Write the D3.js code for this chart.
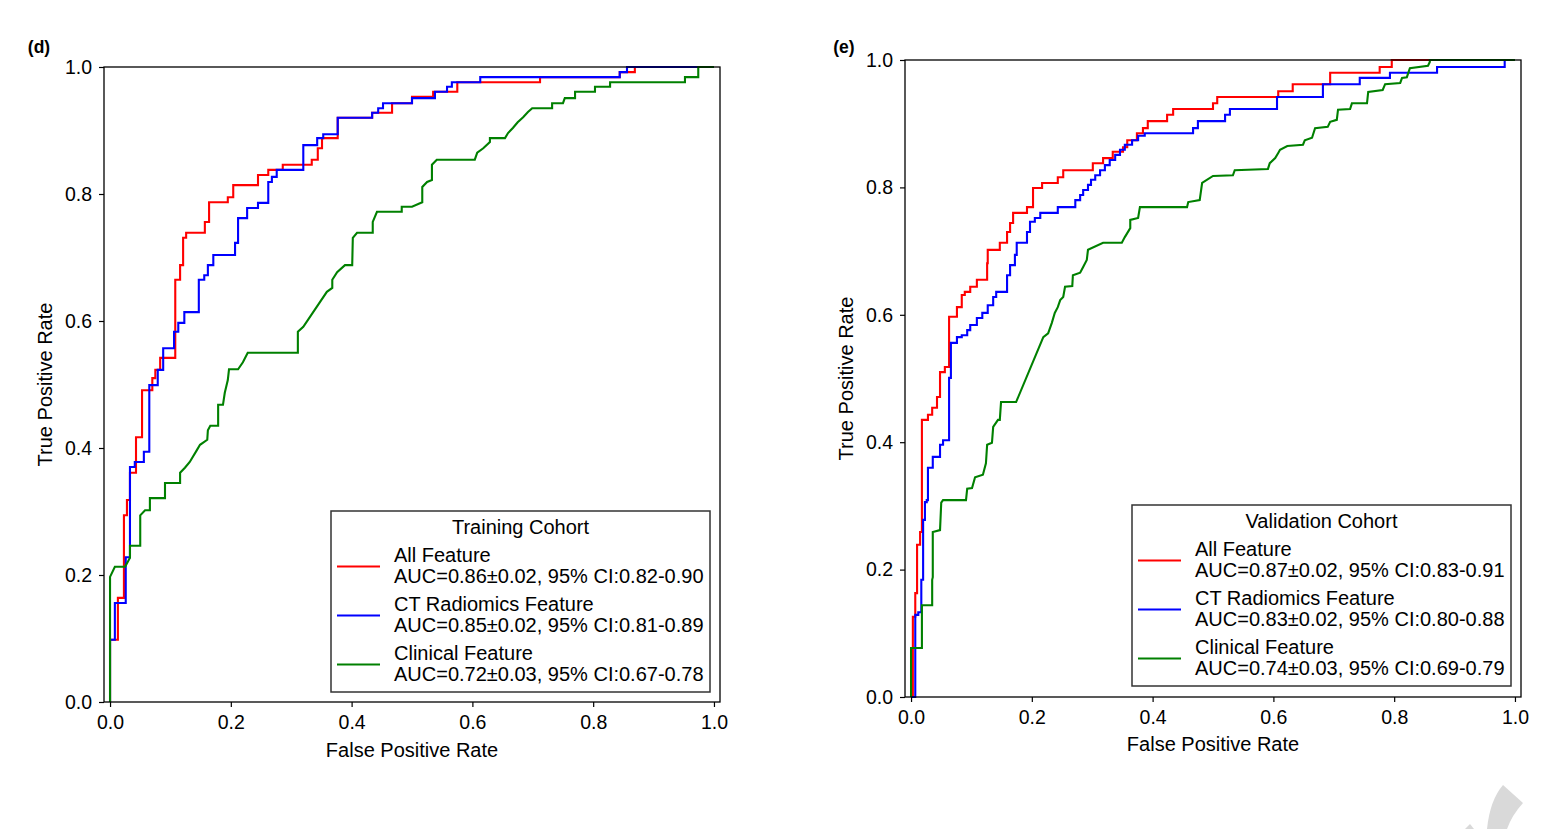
<!DOCTYPE html>
<html><head><meta charset="utf-8">
<script src="https://cdn.jsdelivr.net/npm/d3@7"></script>
<style>
body{margin:0;background:#fff}
svg{display:block}
text{font-family:"Liberation Sans",Arial,Helvetica,sans-serif;fill:#000}
</style>
</head><body>
<svg id="chart" width="1541" height="829"></svg>
<script>
// ---------------- DATA ----------------
const xTicks = [0, 0.2, 0.4, 0.6, 0.8, 1.0];
const yTicks = [0, 0.2, 0.4, 0.6, 0.8, 1.0];
const seriesNames = ["All Feature", "CT Radiomics Feature", "Clinical Feature"];
const seriesColors = ["#ff0000", "#0000ff", "#008000"];
const trainAUC = ["AUC=0.86±0.02, 95% CI:0.82-0.90", "AUC=0.85±0.02, 95% CI:0.81-0.89", "AUC=0.72±0.03, 95% CI:0.67-0.78"];
const valAUC = ["AUC=0.87±0.02, 95% CI:0.83-0.91", "AUC=0.83±0.02, 95% CI:0.80-0.88", "AUC=0.74±0.03, 95% CI:0.69-0.79"];

// Training cohort ROC vertices [fpr, tpr]
const trainAll = [[0,0],[0,0.098],[0.013,0.098],[0.013,0.164],[0.023,0.164],[0.023,0.294],[0.028,0.294],[0.028,0.318],[0.033,0.318],[0.033,0.361],[0.043,0.361],[0.043,0.417],[0.053,0.417],[0.053,0.491],[0.070,0.491],[0.070,0.510],[0.075,0.510],[0.075,0.523],[0.083,0.523],[0.083,0.542],[0.108,0.542],[0.108,0.665],[0.116,0.665],[0.116,0.688],[0.121,0.688],[0.121,0.731],[0.126,0.731],[0.126,0.739],[0.157,0.739],[0.157,0.756],[0.164,0.756],[0.164,0.787],[0.195,0.787],[0.195,0.795],[0.204,0.795],[0.204,0.814],[0.245,0.814],[0.245,0.830],[0.262,0.830],[0.262,0.838],[0.286,0.838],[0.286,0.846],[0.334,0.846],[0.334,0.854],[0.344,0.854],[0.344,0.872],[0.351,0.872],[0.351,0.888],[0.377,0.888],[0.377,0.920],[0.434,0.920],[0.434,0.928],[0.467,0.928],[0.467,0.943],[0.500,0.943],[0.500,0.953],[0.535,0.953],[0.535,0.961],[0.575,0.961],[0.575,0.976],[0.712,0.976],[0.712,0.984],[0.844,0.984],[0.844,0.992],[0.869,0.992],[0.869,1],[1,1]];
const trainCT = [[0,0],[0,0.098],[0.008,0.098],[0.008,0.156],[0.026,0.156],[0.026,0.228],[0.033,0.228],[0.033,0.370],[0.041,0.370],[0.041,0.378],[0.056,0.378],[0.056,0.394],[0.065,0.394],[0.065,0.499],[0.079,0.499],[0.079,0.523],[0.088,0.523],[0.088,0.557],[0.106,0.557],[0.106,0.583],[0.113,0.583],[0.113,0.597],[0.123,0.597],[0.123,0.614],[0.147,0.614],[0.147,0.665],[0.156,0.665],[0.156,0.672],[0.162,0.672],[0.162,0.688],[0.171,0.688],[0.171,0.704],[0.207,0.704],[0.207,0.723],[0.212,0.723],[0.212,0.762],[0.227,0.762],[0.227,0.778],[0.245,0.778],[0.245,0.786],[0.262,0.786],[0.262,0.819],[0.268,0.819],[0.268,0.827],[0.276,0.827],[0.276,0.838],[0.320,0.838],[0.320,0.877],[0.343,0.877],[0.343,0.888],[0.353,0.888],[0.353,0.894],[0.377,0.894],[0.377,0.920],[0.434,0.920],[0.434,0.928],[0.444,0.928],[0.444,0.935],[0.452,0.935],[0.452,0.943],[0.500,0.943],[0.500,0.951],[0.538,0.951],[0.538,0.961],[0.558,0.961],[0.558,0.969],[0.566,0.969],[0.566,0.976],[0.613,0.976],[0.613,0.984],[0.844,0.984],[0.844,0.992],[0.856,0.992],[0.856,1],[1,1]];
const trainClin = [[0,0],[0,0.197],[0.008,0.213],[0.025,0.213],[0.033,0.227],[0.033,0.246],[0.050,0.246],[0.050,0.294],[0.058,0.302],[0.066,0.302],[0.066,0.321],[0.091,0.321],[0.091,0.345],[0.116,0.345],[0.116,0.361],[0.124,0.369],[0.132,0.378],[0.144,0.397],[0.149,0.405],[0.161,0.413],[0.162,0.428],[0.166,0.435],[0.179,0.435],[0.179,0.468],[0.187,0.468],[0.190,0.487],[0.195,0.507],[0.197,0.524],[0.212,0.524],[0.220,0.535],[0.228,0.550],[0.311,0.550],[0.311,0.583],[0.320,0.591],[0.359,0.646],[0.368,0.652],[0.368,0.665],[0.376,0.677],[0.389,0.688],[0.401,0.688],[0.402,0.731],[0.409,0.739],[0.435,0.739],[0.435,0.756],[0.442,0.772],[0.483,0.772],[0.483,0.780],[0.500,0.780],[0.517,0.787],[0.517,0.811],[0.525,0.819],[0.533,0.822],[0.533,0.846],[0.541,0.854],[0.604,0.854],[0.608,0.865],[0.618,0.872],[0.629,0.882],[0.629,0.888],[0.654,0.888],[0.659,0.896],[0.667,0.904],[0.675,0.913],[0.684,0.921],[0.692,0.929],[0.699,0.935],[0.732,0.935],[0.732,0.943],[0.750,0.943],[0.753,0.951],[0.770,0.951],[0.770,0.961],[0.803,0.961],[0.803,0.969],[0.828,0.969],[0.828,0.976],[0.952,0.976],[0.952,0.984],[0.974,0.984],[0.974,1],[1,1]];

// Validation cohort ROC vertices [fpr, tpr]
const valAll = [[0,0],[0.003,0],[0.003,0.126],[0.007,0.126],[0.007,0.163],[0.010,0.163],[0.010,0.239],[0.015,0.239],[0.015,0.259],[0.018,0.259],[0.018,0.435],[0.028,0.435],[0.028,0.443],[0.035,0.443],[0.035,0.454],[0.043,0.454],[0.043,0.471],[0.048,0.471],[0.048,0.510],[0.056,0.510],[0.056,0.518],[0.063,0.518],[0.063,0.597],[0.076,0.597],[0.076,0.612],[0.084,0.612],[0.084,0.631],[0.089,0.631],[0.089,0.636],[0.098,0.636],[0.098,0.644],[0.109,0.644],[0.109,0.655],[0.126,0.655],[0.126,0.681],[0.127,0.681],[0.127,0.702],[0.147,0.702],[0.147,0.713],[0.159,0.713],[0.159,0.730],[0.164,0.730],[0.164,0.744],[0.169,0.744],[0.169,0.760],[0.192,0.760],[0.192,0.769],[0.202,0.769],[0.202,0.799],[0.217,0.799],[0.217,0.807],[0.243,0.807],[0.243,0.816],[0.252,0.816],[0.252,0.827],[0.301,0.827],[0.301,0.838],[0.318,0.838],[0.318,0.846],[0.334,0.846],[0.334,0.856],[0.351,0.856],[0.351,0.863],[0.358,0.863],[0.358,0.874],[0.374,0.874],[0.374,0.885],[0.384,0.885],[0.384,0.893],[0.392,0.893],[0.392,0.904],[0.424,0.904],[0.424,0.914],[0.434,0.914],[0.434,0.923],[0.500,0.923],[0.500,0.932],[0.507,0.932],[0.507,0.942],[0.608,0.942],[0.608,0.951],[0.632,0.951],[0.632,0.962],[0.694,0.962],[0.694,0.980],[0.776,0.980],[0.776,0.989],[0.796,0.989],[0.796,1],[1,1]];
const valCT = [[0,0],[0.007,0],[0.007,0.129],[0.012,0.129],[0.012,0.133],[0.017,0.133],[0.017,0.184],[0.020,0.184],[0.020,0.278],[0.023,0.278],[0.023,0.306],[0.026,0.306],[0.026,0.309],[0.028,0.309],[0.028,0.360],[0.036,0.360],[0.036,0.377],[0.048,0.377],[0.048,0.396],[0.053,0.396],[0.053,0.403],[0.063,0.403],[0.063,0.501],[0.066,0.501],[0.066,0.556],[0.076,0.556],[0.076,0.565],[0.084,0.565],[0.084,0.568],[0.093,0.568],[0.093,0.576],[0.098,0.576],[0.098,0.584],[0.109,0.584],[0.109,0.595],[0.118,0.595],[0.118,0.603],[0.127,0.603],[0.127,0.615],[0.136,0.615],[0.136,0.628],[0.141,0.628],[0.141,0.636],[0.159,0.636],[0.159,0.662],[0.164,0.662],[0.164,0.678],[0.172,0.678],[0.172,0.694],[0.175,0.694],[0.175,0.713],[0.192,0.713],[0.192,0.730],[0.197,0.730],[0.197,0.746],[0.205,0.746],[0.205,0.752],[0.214,0.752],[0.214,0.760],[0.243,0.760],[0.243,0.769],[0.272,0.769],[0.272,0.780],[0.280,0.780],[0.280,0.788],[0.285,0.788],[0.285,0.796],[0.293,0.796],[0.293,0.804],[0.298,0.804],[0.298,0.812],[0.305,0.812],[0.305,0.819],[0.313,0.819],[0.313,0.827],[0.321,0.827],[0.321,0.835],[0.329,0.835],[0.329,0.843],[0.338,0.843],[0.338,0.851],[0.346,0.851],[0.346,0.859],[0.354,0.859],[0.354,0.867],[0.366,0.867],[0.366,0.874],[0.376,0.874],[0.376,0.881],[0.387,0.881],[0.387,0.885],[0.467,0.885],[0.467,0.893],[0.475,0.893],[0.475,0.904],[0.520,0.904],[0.520,0.914],[0.528,0.914],[0.528,0.923],[0.606,0.923],[0.606,0.942],[0.682,0.942],[0.682,0.962],[0.743,0.962],[0.743,0.972],[0.793,0.972],[0.793,0.980],[0.871,0.980],[0.871,0.989],[0.983,0.989],[0.983,1],[1,1]];
const valClin = [[0,0],[0,0.077],[0.018,0.077],[0.018,0.144],[0.035,0.144],[0.035,0.184],[0.036,0.188],[0.036,0.259],[0.048,0.262],[0.050,0.305],[0.053,0.309],[0.091,0.309],[0.093,0.327],[0.101,0.328],[0.106,0.345],[0.119,0.349],[0.124,0.367],[0.126,0.396],[0.134,0.399],[0.136,0.424],[0.144,0.435],[0.147,0.435],[0.149,0.463],[0.174,0.463],[0.219,0.565],[0.227,0.571],[0.233,0.587],[0.238,0.603],[0.243,0.612],[0.247,0.623],[0.252,0.628],[0.255,0.644],[0.267,0.645],[0.268,0.662],[0.280,0.666],[0.285,0.675],[0.291,0.686],[0.293,0.702],[0.318,0.713],[0.349,0.713],[0.354,0.722],[0.363,0.736],[0.363,0.749],[0.376,0.752],[0.379,0.769],[0.457,0.769],[0.459,0.777],[0.478,0.780],[0.482,0.807],[0.500,0.818],[0.533,0.819],[0.536,0.827],[0.591,0.829],[0.594,0.838],[0.603,0.846],[0.608,0.854],[0.611,0.859],[0.623,0.865],[0.649,0.867],[0.652,0.874],[0.664,0.878],[0.669,0.893],[0.690,0.895],[0.694,0.903],[0.705,0.906],[0.707,0.922],[0.727,0.923],[0.730,0.932],[0.755,0.932],[0.757,0.950],[0.781,0.953],[0.785,0.962],[0.810,0.964],[0.813,0.972],[0.821,0.973],[0.826,0.987],[0.856,0.991],[0.859,0.997],[0.859,1],[1,1]];

// ---------------- LAYOUT ----------------
const panels = [
  {letter:"(d)", title:"Training Cohort", auc:trainAUC, series:[trainAll, trainCT, trainClin],
   x0:104, x1:720, y0:67, y1:702, letterX:39, letterY:47, xTitleY:750, yTitleX:45,
   legend:{x:331, y:511, w:379, h:181}},
  {letter:"(e)", title:"Validation Cohort", auc:valAUC, series:[valAll, valCT, valClin],
   x0:905, x1:1521, y0:60, y1:697, letterX:844, letterY:47, xTitleY:744, yTitleX:846,
   legend:{x:1132, y:505, w:379, h:181}}
];
const FS = 20;
const svg = d3.select("#chart");
svg.append("rect").attr("width",1541).attr("height",829).attr("fill","#fff");

panels.forEach(p => {
  const g = svg.append("g");
  const x = d3.scaleLinear().domain([-0.01, 1.01]).range([p.x0, p.x1]);
  const y = d3.scaleLinear().domain([0, 1]).range([p.y1, p.y0]);

  // curves
  const line = d3.line().x(d => x(d[0])).y(d => y(d[1])).curve(d3.curveLinear);
  p.series.forEach((s, i) => {
    g.append("path").datum(s).attr("d", line)
      .attr("fill","none").attr("stroke", seriesColors[i])
      .attr("stroke-width", 2.1).attr("stroke-linejoin","miter");
  });

  // axes
  const xAxis = d3.axisBottom(x).tickValues(xTicks).tickFormat(d3.format(".1f")).tickSize(5).tickPadding(8);
  const yAxis = d3.axisLeft(y).tickValues(yTicks).tickFormat(d3.format(".1f")).tickSize(5).tickPadding(7);
  const gx = g.append("g").attr("transform", `translate(0,${p.y1})`).call(xAxis);
  const gy = g.append("g").attr("transform", `translate(${p.x0},0)`).call(yAxis);
  [gx, gy].forEach(a => {
    a.select(".domain").remove();
    a.selectAll(".tick line").attr("stroke","#000").attr("stroke-width",1.2);
    a.selectAll(".tick text").attr("font-size", FS - 0.5).attr("fill","#000")
      .style("font-family",'"Liberation Sans",Arial,Helvetica,sans-serif');
  });

  // frame
  g.append("rect").attr("x", p.x0).attr("y", p.y0)
    .attr("width", p.x1 - p.x0).attr("height", p.y1 - p.y0)
    .attr("fill","none").attr("stroke","#000").attr("stroke-width",1.3);

  // titles
  g.append("text").attr("x", (p.x0 + p.x1)/2).attr("y", p.xTitleY)
    .attr("text-anchor","middle").attr("dominant-baseline","central")
    .attr("font-size", FS).text("False Positive Rate");
  g.append("text").attr("transform", `translate(${p.yTitleX},${(p.y0+p.y1)/2}) rotate(-90)`)
    .attr("text-anchor","middle").attr("dominant-baseline","central")
    .attr("font-size", FS).text("True Positive Rate");
  g.append("text").attr("x", p.letterX).attr("y", p.letterY)
    .attr("text-anchor","middle").attr("dominant-baseline","central")
    .attr("font-size", 17.5).attr("font-weight","bold").text(p.letter);

  // legend
  const L = p.legend;
  const lg = g.append("g");
  lg.append("rect").attr("x", L.x).attr("y", L.y).attr("width", L.w).attr("height", L.h)
    .attr("fill","#fff").attr("stroke","#333").attr("stroke-width",1.5);
  lg.append("text").attr("x", L.x + L.w/2).attr("y", L.y + 16)
    .attr("text-anchor","middle").attr("dominant-baseline","central")
    .attr("font-size", FS).text(p.title);
  seriesNames.forEach((n, i) => {
    const oy = L.y + i*49;
    lg.append("line").attr("x1", L.x + 6).attr("x2", L.x + 49)
      .attr("y1", oy + 55.5).attr("y2", oy + 55.5)
      .attr("stroke", seriesColors[i]).attr("stroke-width", 2.2);
    lg.append("text").attr("x", L.x + 63).attr("y", oy + 44)
      .attr("dominant-baseline","central").attr("font-size", FS).text(n);
    lg.append("text").attr("x", L.x + 63).attr("y", oy + 65)
      .attr("dominant-baseline","central").attr("font-size", FS).text(p.auc[i]);
  });
});

// decorative grey fragment at bottom right corner
svg.append("path")
  .attr("d","M1503,785 L1523,803 Q1512,815 1507,829 L1487,829 Q1490,800 1503,785 Z")
  .attr("fill","#d9d9d9");
svg.append("path")
  .attr("d","M1465,829 L1470,824 L1474,829 Z").attr("fill","#d9d9d9");
</script>
</body></html>
